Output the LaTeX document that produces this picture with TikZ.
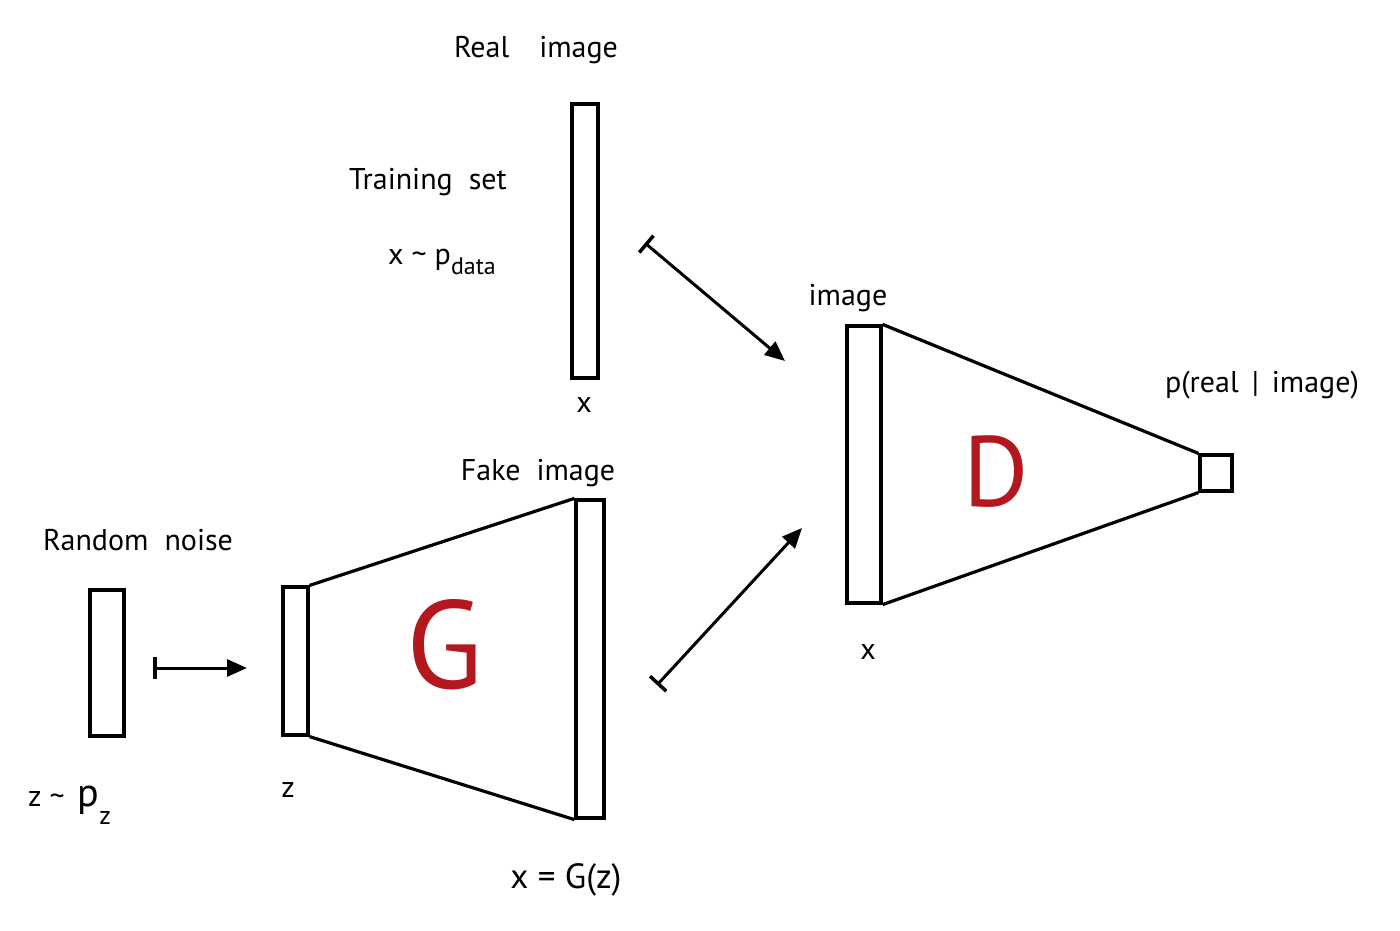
\documentclass[tikz,border=0pt]{standalone}
\usepackage{fontspec}
\setmainfont{PT Sans}
\usetikzlibrary{arrows.meta}
\definecolor{gred}{RGB}{178,24,30}
\tikzset{
  bar/.style={draw, line width=3.2pt, rectangle, inner sep=0pt},
  lbl/.style={inner sep=0pt, font=\fontsize{30}{32}\selectfont},
  big/.style={inner sep=0pt, text=gred},
  edge/.style={line width=3.2pt},
  flow/.style={line width=3pt, {Bar[width=22pt,line width=3.5pt]}-{Triangle[length=20pt,width=17pt]}}
}
\begin{document}
\begin{tikzpicture}[x=1pt,y=-1pt]
\useasboundingbox (0,0) rectangle (1400,931);
% bars
\node[bar, minimum width=26pt, minimum height=274pt] (realbar) at (585,241) {};
\node[bar, minimum width=34pt, minimum height=146pt] (noisebar) at (107,663) {};
\node[bar, minimum width=25pt, minimum height=148pt] (zbar) at (295.5,661) {};
\node[bar, minimum width=28pt, minimum height=318pt] (fakebar) at (590,659) {};
\node[bar, minimum width=34pt, minimum height=277pt] (dbar) at (864,464.5) {};
\node[bar, minimum width=32pt, minimum height=36pt] (outsq) at (1216,473) {};
% trapezoids
\draw[edge] (zbar.north east) -- (fakebar.north west);
\draw[edge] (zbar.south east) -- (fakebar.south west);
\draw[edge] (dbar.north east) -- (outsq.north west);
\draw[edge] (dbar.south east) -- (outsq.south west);
% arrow ends
\coordinate (a1s) at (153,668);
\coordinate (a1e) at (247,668);
\coordinate (a2s) at (645,243);
\coordinate (a2e) at (785,361);
\coordinate (a3s) at (657,685);
\coordinate (a3e) at (802,528);
\draw[flow] (a1s) -- (a1e);
\draw[flow] (a2s) -- (a2e);
\draw[flow] (a3s) -- (a3e);
% labels
\node[lbl] (treal) at (536,50) {Real\quad image};
\node[lbl] (ttrain) at (428,182) {Training\ \ set};
\node[lbl] (tpdata) at (442,262) {x \textasciitilde\ p\raisebox{-10pt}{\fontsize{24}{26}\selectfont data}};
\node[lbl] (tx1) at (584,405) {x};
\node[lbl] (tnoise) at (138,540) {Random\ \ noise};
\node[lbl, anchor=west] (tpz) at (28,805) {z \textasciitilde\ \,{\fontsize{40}{40}\selectfont p}\raisebox{-18pt}{\fontsize{26}{26}\selectfont z}};
\node[lbl] (tz) at (288,790) {z};
\node[lbl] (tfake) at (538,473) {Fake\ \ image};
\node[big, font=\fontsize{125}{125}\selectfont] (tG) at (445,645) {G};
\node[lbl, font=\fontsize{35}{36}\selectfont] (tgz) at (566,880) {x = G(z)};
\node[lbl] (timg) at (848,298) {image};
\node[lbl] (tx2) at (868,652) {x};
\node[big, font=\fontsize{100}{100}\selectfont] (tD) at (996,472) {D};
\node[lbl] (tpreal) at (1262,385) {p(real\ \,|\ \,image)};
\end{tikzpicture}
\end{document}
